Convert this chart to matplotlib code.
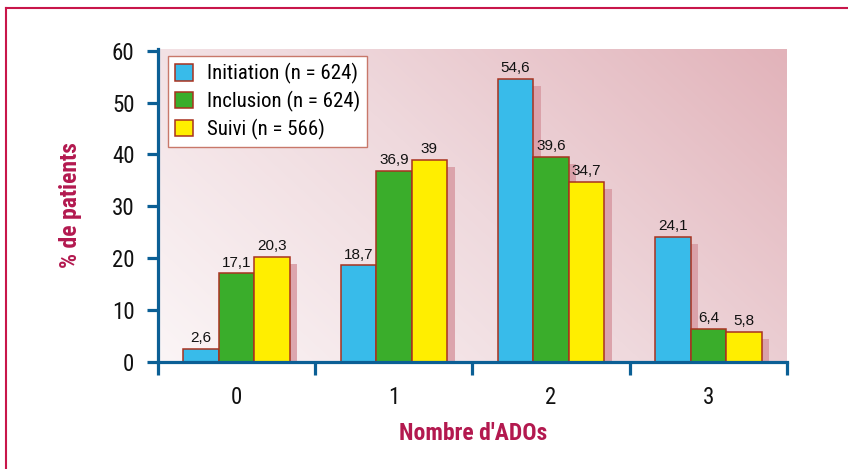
import numpy as np
import matplotlib
matplotlib.use("Agg")
import matplotlib.pyplot as plt
from matplotlib.patches import Patch
from matplotlib.lines import Line2D
from matplotlib.colors import LinearSegmentedColormap
from matplotlib import font_manager as fm

# ---- data ----
categories = ["0", "1", "2", "3"]
series_names = ["Initiation (n = 624)", "Inclusion (n = 624)", "Suivi (n = 566)"]
initiation = [2.6, 18.7, 54.6, 24.1]
inclusion = [17.1, 36.9, 39.6, 6.4]
suivi = [20.3, 39.0, 34.7, 5.8]
value_labels = [["2,6", "18,7", "54,6", "24,1"],
                ["17,1", "36,9", "39,6", "6,4"],
                ["20,3", "39", "34,7", "5,8"]]
y_ticks = [0, 10, 20, 30, 40, 50, 60]

colors = ["#38bbea", "#3aad2b", "#ffee00"]
edge_col = "#a8321f"
axis_col = "#0b5f95"
label_col = "#b3194f"
frame_col = "#c8164a"
shadow_col = "#d89aa3"

# ---- pick a condensed font if one exists ----
avail_names = {f.name for f in fm.fontManager.ttflist}
cond_names = ["Liberation Sans Narrow", "Roboto Condensed", "Arial Narrow",
              "Open Sans Condensed", "DejaVu Sans Condensed", "Noto Sans Condensed"]
narrow_name = next((n for n in cond_names if n in avail_names), None)
dejavu_cond = any(f.name == "DejaVu Sans" and str(f.stretch).lower() in
                  ("condensed", "semi-condensed", "semicondensed")
                  for f in fm.fontManager.ttflist)
if narrow_name:
    nfam = [narrow_name, "Liberation Sans", "DejaVu Sans"]
    nstretch = "normal"
    scale = 1.0
elif dejavu_cond:
    nfam = ["DejaVu Sans"]
    nstretch = "condensed"
    scale = 0.9
else:
    nfam = ["Liberation Sans", "DejaVu Sans"]
    nstretch = "normal"
    scale = 0.86
reg_fam = ["Liberation Sans", "DejaVu Sans"]
plt.rcParams['font.family'] = nfam
plt.rcParams['font.stretch'] = nstretch

W, H = 848, 469
fig = plt.figure(figsize=(W / 100, H / 100), dpi=100)
ax = fig.add_axes([158 / W, 1 - 362 / H, (787 - 158) / W, (362 - 49) / H])

# gradient background
nx, ny = 200, 100
gx, gy = np.meshgrid(np.linspace(0, 1, nx), np.linspace(0, 1, ny))
t = 0.65 * gx + 0.35 * gy
cmap = LinearSegmentedColormap.from_list("bg", ["#fbf5f6", "#efd9dd", "#e2b3ba"])
ax.imshow(t, extent=[0, 1, 0, 1], transform=ax.transAxes, origin="lower",
          cmap=cmap, aspect="auto", zorder=0, interpolation="bilinear")

px_per_unit_x = (787 - 158) / 4.0
px_per_unit_y = (362 - 49) / 60.33
dx_sh = 7.5 / px_per_unit_x
dy_sh = 7.5 / px_per_unit_y

x = np.arange(len(categories))
bw = 0.226
series = [initiation, inclusion, suivi]
for i, vals in enumerate(series):
    pos = x + (i - 1) * bw
    sh = [max(v - dy_sh, 0) for v in vals]
    ax.bar(pos + dx_sh, sh, width=bw, color=shadow_col, alpha=0.85,
           linewidth=0, zorder=1)
for i, vals in enumerate(series):
    pos = x + (i - 1) * bw
    ax.bar(pos, vals, width=bw, color=colors[i], edgecolor=edge_col,
           linewidth=1.1, zorder=2)
    for p, v, lab in zip(pos, vals, value_labels[i]):
        ax.annotate(lab, (p, v), xytext=(0, 2.5), textcoords="offset points",
                    ha="center", va="bottom", fontsize=11, family=reg_fam,
                    stretch="normal", color="#111111", zorder=3)

ax.set_xlim(-0.5, 3.5)
ax.set_ylim(0, 60.33)
ax.set_yticks(y_ticks)
ax.set_xticks(x)
ax.set_xticklabels(categories)
ax.set_xticks([-0.5, 0.5, 1.5, 2.5, 3.5], minor=True)

for s in ["top", "right"]:
    ax.spines[s].set_visible(False)
for s in ["left", "bottom"]:
    ax.spines[s].set_color(axis_col)
    ax.spines[s].set_linewidth(2.3)

tick_fs = 16.5 if narrow_name else 15.5
ax.tick_params(axis="y", direction="out", length=8, width=2.3, color=axis_col,
               labelsize=tick_fs, pad=9, labelcolor="#111111")
ax.tick_params(axis="x", which="major", length=0, labelsize=tick_fs, pad=17,
               labelcolor="#111111")
ax.tick_params(axis="x", which="minor", direction="out", length=9, width=2.3,
               color=axis_col)

leg_fs = 15 * scale
handles = [Patch(facecolor=c, edgecolor=edge_col, linewidth=1.1) for c in colors]
leg = ax.legend(handles, series_names, loc="upper left",
                bbox_to_anchor=(0.016, 0.978), borderaxespad=0,
                fancybox=False, framealpha=1, edgecolor="#c8786a",
                fontsize=leg_fs, handlelength=0.85, handleheight=0.85,
                handletextpad=0.65, labelspacing=0.32, borderpad=0.35)
leg.get_frame().set_linewidth(1.0)
leg.set_zorder(5)

lab_fs = 17 * scale
fig.text(70 / W, 1 - 205 / H, "% de patients", rotation=90, ha="center",
         va="center", fontsize=lab_fs, fontweight="bold", color=label_col)
fig.text(473 / W, 1 - 433 / H, "Nombre d'ADOs", ha="center", va="center",
         fontsize=lab_fs, fontweight="bold", color=label_col)

# outer frame (left and top)
fig.add_artist(Line2D([6 / W, 6 / W], [0, 1 - 8 / H], transform=fig.transFigure,
                      color=frame_col, linewidth=1.5))
fig.add_artist(Line2D([6 / W, 1], [1 - 8 / H, 1 - 8 / H], transform=fig.transFigure,
                      color=frame_col, linewidth=1.5))

fig.savefig("out.png", dpi=100)
